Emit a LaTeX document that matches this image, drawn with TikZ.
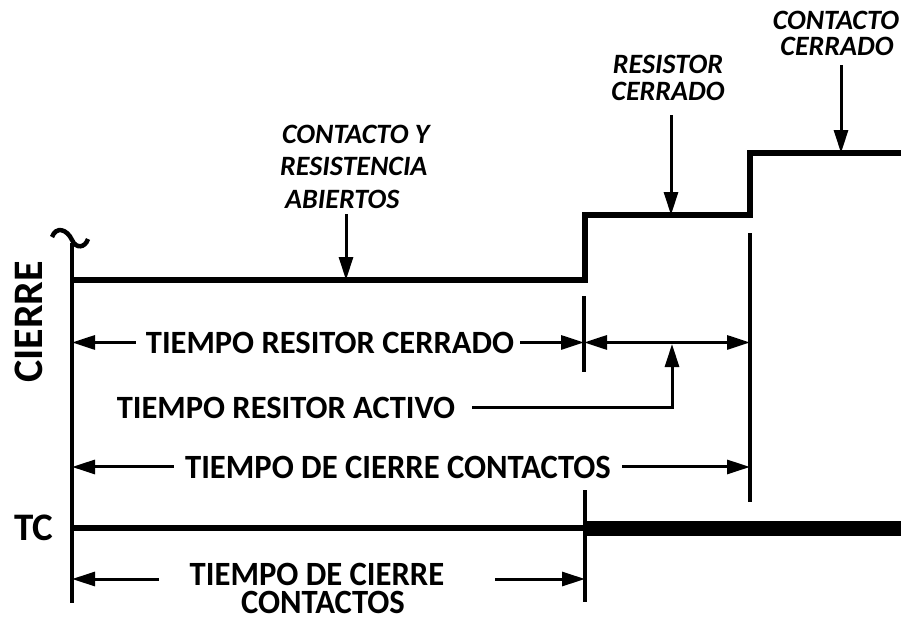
\documentclass[tikz,border=0pt]{standalone}
\usepackage{fontspec}
\setmainfont{Carlito}
\usetikzlibrary{arrows.meta, positioning, calc}

\begin{document}
\begin{tikzpicture}[
    x=1pt, y=-1pt,
    wave/.style={line width=6pt, line join=miter},
    guide/.style={line width=4pt},
    dim/.style={line width=3pt, -{Triangle[length=23pt, width=14pt]}},
    dimboth/.style={line width=3pt, {Triangle[length=23pt, width=14pt]}-{Triangle[length=23pt, width=14pt]}},
    timetxt/.style={font=\fontsize{32.5}{36}\selectfont\bfseries, inner sep=0pt, anchor=base},
    bigtxt/.style={font=\fontsize{34}{38}\selectfont\bfseries, inner sep=0pt, anchor=base, xscale=0.96},
    sigtxt/.style={font=\fontsize{28}{30}\selectfont\bfseries\itshape, inner sep=0pt, anchor=base west}
]
    \useasboundingbox (0,0) rectangle (907,619);

    % axis and signals
    \coordinate (axtop) at (72,243);
    \coordinate (axbot) at (72,603);
    \coordinate (lo) at (72,280);
    \coordinate (step) at (585,280);
    \coordinate (mid) at (750,215);
    \coordinate (hi) at (901,153);
    \coordinate (tc0) at (72,528);
    \coordinate (tc1) at (585,528);
    \coordinate (tc2) at (901,528);

    \draw[guide] (axtop) -- (axbot);
    \draw[line width=4.5pt] (52,237) .. controls (56,226) and (67,229) .. (72,240) .. controls (76,249) and (85,248) .. (88,239);
    \draw[wave] (lo) -- (step) |- (mid) |- (hi);
    \draw[wave] (tc0) -- (tc1);
    \draw[line width=15pt] (tc1) -- (tc2);

    \node[font=\fontsize{42}{46}\selectfont\bfseries, rotate=90, inner sep=0pt] (cierre) at (29,322) {CIERRE};
    \node[timetxt, font=\fontsize{39}{44}\selectfont\bfseries] (tc) at (34,540) {TC};

    % marks
    \coordinate (rtop) at (584,296);
    \coordinate (rbot) at (584,372);
    \coordinate (ctop) at (750,233);
    \coordinate (cbot) at (750,502);
    \coordinate (ttop) at (585,490);
    \coordinate (tbot) at (585,602);
    \draw[guide] (rtop) -- (rbot);
    \draw[guide] (ctop) -- (cbot);
    \draw[guide] (ttop) -- (tbot);

    % time labels
    \node[timetxt] (trc) at (330,353) {TIEMPO RESITOR CERRADO};
    \draw[dim] ([xshift=-10pt]trc.west) -- (trc.west -| axtop);
    \draw[dim] ([xshift=6pt]trc.east) -- (trc.east -| rtop);
    \draw[dimboth] (trc.east -| rtop) -- (trc.east -| ctop);

    \node[timetxt] (tra) at (286,418) {TIEMPO RESITOR ACTIVO};
    \coordinate (act) at (672,344);
    \draw[dim] ([xshift=17pt]tra.east) -| (act);

    \node[bigtxt] (tcc) at (398,478) {TIEMPO DE CIERRE CONTACTOS};
    \draw[dim] ([xshift=-11pt]tcc.west) -- (tcc.west -| axtop);
    \draw[dim] ([xshift=11pt]tcc.east) -- (tcc.east -| ctop);

    \node[bigtxt] (tcb1) at (317,585) {TIEMPO DE CIERRE};
    \node[bigtxt] (tcb2) at (323,613) {CONTACTOS};
    \coordinate (bl) at (159,579);
    \coordinate (br) at (495,579);
    \draw[dim] (bl) -- (bl -| axtop);
    \draw[dim] (br) -- (br -| ttop);

    % state labels
    \node[sigtxt] (ab1) at (282,143) {CONTACTO Y};
    \node[sigtxt] (ab2) at (280,175) {RESISTENCIA};
    \node[sigtxt] (ab3) at (285,208) {ABIERTOS};
    \coordinate (pab) at (346,214);
    \draw[dim] (pab) -- (pab |- lo);

    \node[sigtxt, anchor=base] (rc1) at (668,73) {RESISTOR};
    \node[sigtxt, anchor=base] (rc2) at (668,100) {CERRADO};
    \coordinate (prc) at (671,115);
    \draw[dim] (prc) -- (prc |- mid);

    \node[sigtxt, anchor=base] (cc1) at (836,29) {CONTACTO};
    \node[sigtxt, anchor=base] (cc2) at (837,55) {CERRADO};
    \coordinate (pcc) at (841,65);
    \draw[dim] (pcc) -- (pcc |- hi);

\end{tikzpicture}
\end{document}
